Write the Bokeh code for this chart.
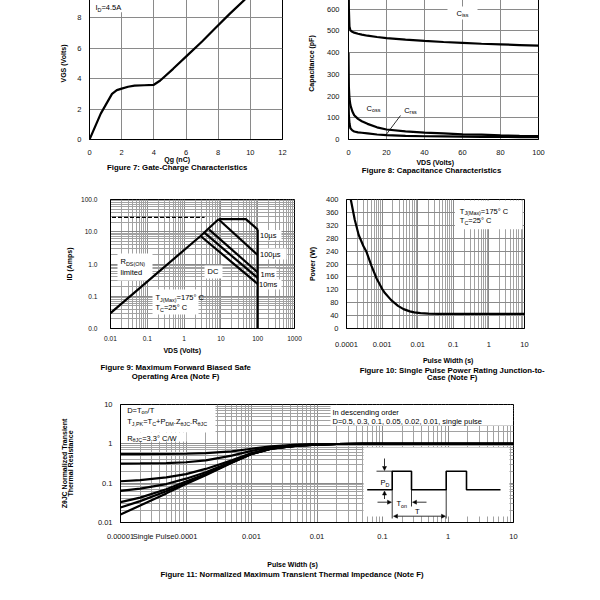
import math
from bokeh.plotting import figure
from bokeh.models import Label, FixedTicker, CustomJSTickFormatter, Arrow, NormalHead, Title
from bokeh.layouts import column, row
from bokeh.embed import file_html
from bokeh.resources import INLINE

FONT = "Liberation Sans"

# ---------------- data ----------------
# Figure 7: gate charge
gate_qg_nc = [0, 0.7, 1.4, 1.7, 2.0, 2.4, 2.8, 3.4, 4.0, 4.4, 5.2, 6.1, 7.0, 7.8, 8.7, 9.6, 10.4]
gate_vgs = [0, 1.7, 3.0, 3.25, 3.35, 3.47, 3.54, 3.57, 3.6, 3.88, 4.65, 5.55, 6.45, 7.3, 8.25, 9.15, 10.0]

# Figure 8: capacitance
cap_vds = [0, 0.2, 0.5, 1, 2, 3, 5, 7, 10, 15, 20, 30, 40, 50, 60, 70, 80, 90, 100]
cap_ciss = [800, 600, 520, 503, 496, 492, 487, 483, 478, 472, 467, 460, 454, 449, 445, 441, 438, 435, 432]
cap_coss = [400, 240, 190, 158, 130, 112, 95, 84, 72, 56, 46, 37, 32, 28, 24, 22, 19, 17, 16]
cap_crss = [180, 110, 75, 52, 42, 37, 33, 31, 28, 23, 20, 17, 15, 14, 13, 12, 12, 11, 11]

# Figure 9: safe operating area
soa_rds_v = [0.01, 2.8, 8.6]
soa_rds_i = [0.03, 7.4, 24.5]
soa_lim_v = [0.011, 3.6]
soa_lim_i = [28, 28]
soa_10us_v = [8.6, 47.7, 100]
soa_10us_i = [24.5, 24.5, 11.7]
soa_vmax_v = [100, 100]
soa_vmax_i = [11.7, 0.01]
soa_100us_v = [8.6, 100]
soa_100us_i = [24.5, 1.9]
soa_1ms_v = [4.8, 100]
soa_1ms_i = [11.6, 0.55]
soa_10ms_v = [3.6, 100]
soa_10ms_i = [9.2, 0.37]
soa_dc_v = [2.8, 100]
soa_dc_i = [7.4, 0.24]

# Figure 10: single pulse power
pulse_t = [1.32e-4, 1.7e-4, 2.2e-4, 3e-4, 3.6e-4, 5e-4, 7e-4, 1e-3, 1.2e-3, 1.8e-3, 2.8e-3,
           4e-3, 6e-3, 8e-3, 1.2e-2, 2e-2, 4e-2, 0.1, 1, 10]
pulse_p = [400, 338, 290, 255, 239, 195, 155, 123, 110, 88, 70,
           60, 53, 50, 47.5, 46.2, 45.6, 45.5, 45.5, 45.5]

# Figure 11: normalized transient thermal impedance
zth_t = [1e-5, 2e-5, 5e-5, 1e-4, 2e-4, 5e-4, 1e-3, 2e-3, 5e-3, 1e-2, 2e-2, 5e-2, 0.1, 1, 10]
zth_d050 = [0.55, 0.55, 0.552, 0.56, 0.58, 0.645, 0.75, 0.86, 0.95, 0.98, 0.99, 1.0, 1.0, 1.0, 1.0]
zth_d030 = [0.315, 0.317, 0.325, 0.34, 0.38, 0.5, 0.66, 0.82, 0.93, 0.97, 0.99, 1.0, 1.0, 1.0, 1.0]
zth_d010 = [0.112, 0.12, 0.14, 0.17, 0.23, 0.38, 0.58, 0.77, 0.91, 0.96, 0.99, 1.0, 1.0, 1.0, 1.0]
zth_d005 = [0.064, 0.073, 0.095, 0.13, 0.19, 0.35, 0.56, 0.76, 0.9, 0.96, 0.99, 1.0, 1.0, 1.0, 1.0]
zth_d002 = [0.033, 0.043, 0.07, 0.11, 0.17, 0.34, 0.55, 0.75, 0.9, 0.96, 0.99, 1.0, 1.0, 1.0, 1.0]
zth_d001 = [0.024, 0.035, 0.062, 0.1, 0.165, 0.335, 0.55, 0.75, 0.9, 0.96, 0.99, 1.0, 1.0, 1.0, 1.0]
zth_single = [0.016, 0.027, 0.055, 0.095, 0.16, 0.33, 0.55, 0.75, 0.9, 0.96, 0.99, 1.0, 1.0, 1.0, 1.0]

# tick values
g7_xticks = [0, 2, 4, 6, 8, 10, 12]
g7_yticks = [0, 2, 4, 6, 8, 10]
g8_xticks = [0, 20, 40, 60, 80, 100]
g8_yticks = [0, 100, 200, 300, 400, 500, 600, 700]
g9_xticks = [0.01, 0.1, 1, 10, 100, 1000]
g9_yticks = [0.01, 0.1, 1, 10, 100]
g10_xticks = [1e-4, 1e-3, 0.01, 0.1, 1, 10]
g10_yticks = [0, 40, 80, 120, 160, 200, 240, 280, 320, 360, 400]
g11_xticks = [1e-5, 1e-4, 1e-3, 0.01, 0.1, 1, 10]
g11_yticks = [0.01, 0.1, 1, 10]

# ---------------- text metrics (Arial-like) ----------------
REG = {ch: 556 for ch in "0123456789"}
REG.update({' ': 278, '(': 333, ')': 333, '.': 278, ',': 278, ':': 278, '-': 333, '=': 584, '+': 584,
            '/': 278, '°': 400, 'µ': 556, 'θ': 556,
            'A': 667, 'B': 667, 'C': 722, 'D': 722, 'E': 667, 'F': 611, 'G': 778, 'H': 722, 'I': 278,
            'J': 500, 'K': 667, 'L': 556, 'M': 833, 'N': 722, 'O': 778, 'P': 667, 'Q': 778, 'R': 722,
            'S': 667, 'T': 611, 'U': 722, 'V': 667, 'W': 944, 'X': 667, 'Y': 667, 'Z': 611,
            'a': 556, 'b': 556, 'c': 500, 'd': 556, 'e': 556, 'f': 278, 'g': 556, 'h': 556, 'i': 222,
            'j': 222, 'k': 500, 'l': 222, 'm': 833, 'n': 556, 'o': 556, 'p': 556, 'q': 556, 'r': 333,
            's': 500, 't': 278, 'u': 556, 'v': 500, 'w': 722, 'x': 500, 'y': 500, 'z': 500})
BOLD = dict(REG)
BOLD.update({':': 333, 'J': 556, 'b': 611, 'c': 556, 'd': 611, 'f': 333, 'g': 611, 'h': 611, 'i': 278,
             'j': 278, 'k': 556, 'l': 278, 'm': 889, 'n': 611, 'o': 611, 'p': 611, 'q': 611, 'r': 389,
             's': 556, 't': 333, 'u': 611, 'v': 556, 'w': 778, 'x': 556, 'y': 556})


def text_width(s, size, bold):
    tab = BOLD if bold else REG
    return sum(tab.get(ch, 556) for ch in s) * size / 1000.0


class Frame:
    def __init__(self, left, top, w, h, xr, yr, xlog=False, ylog=False):
        self.left, self.top, self.w, self.h = left, top, w, h
        self.xr, self.yr, self.xlog, self.ylog = xr, yr, xlog, ylog

    def fx(self, px):
        t = (px - self.left) / self.w
        a, b = self.xr
        if self.xlog:
            return 10 ** (math.log10(a) + t * (math.log10(b) - math.log10(a)))
        return a + t * (b - a)

    def fy(self, py):
        t = (self.top + self.h - py) / self.h
        a, b = self.yr
        if self.ylog:
            return 10 ** (math.log10(a) + t * (math.log10(b) - math.log10(a)))
        return a + t * (b - a)


def minors(e0, e1):
    return [k * 10.0 ** e for e in range(e0, e1) for k in range(2, 10)]


TITLE = 7.0
CAP = 7.8


def make_fig(fr, cl, ct, cw, ch, xt, yt, xminor=None, yminor=None, xfmt=None, yfmt=None,
             tsize="7.5px", xstand=9, ystand=8, ylabel="", ylabel_stand=7):
    bl = int(round(fr.left - cl))
    bt = int(round(fr.top - ct))
    p = figure(width=cw, height=ch, x_range=fr.xr, y_range=fr.yr,
               x_axis_type="log" if fr.xlog else "linear",
               y_axis_type="log" if fr.ylog else "linear",
               output_backend="svg", toolbar_location=None, title=None,
               min_border_left=bl, min_border_top=bt,
               min_border_right=int(cw - bl - fr.w), min_border_bottom=int(ch - bt - fr.h))
    p.background_fill_color = "white"
    p.border_fill_color = "white"
    p.outline_line_color = "black"
    p.outline_line_width = 1
    xtk = FixedTicker(ticks=xt, minor_ticks=xminor or [])
    ytk = FixedTicker(ticks=yt, minor_ticks=yminor or [])
    p.xaxis.ticker = xtk
    p.yaxis.ticker = ytk
    p.xgrid.ticker = xtk
    p.ygrid.ticker = ytk
    for g, mn in ((p.xgrid, xminor), (p.ygrid, yminor)):
        g.grid_line_color = "#8a8a8a"
        g.grid_line_width = 1
        g.minor_grid_line_color = "#a2a2a2" if mn else None
        g.minor_grid_line_width = 1
    for ax, st in ((p.xaxis, xstand), (p.yaxis, ystand)):
        ax.axis_line_color = "black"
        ax.major_tick_in = 0
        ax.major_tick_out = 0
        ax.minor_tick_in = 0
        ax.minor_tick_out = 0
        ax.major_label_text_font = FONT
        ax.major_label_text_font_size = tsize
        ax.major_label_text_color = "#111111"
        ax.major_label_standoff = st
    p.yaxis.axis_label = ylabel
    p.yaxis.axis_label_text_font = FONT
    p.yaxis.axis_label_text_font_size = "%.1fpx" % TITLE
    p.yaxis.axis_label_text_font_style = "bold"
    p.yaxis.axis_label_text_color = "black"
    p.yaxis.axis_label_standoff = ylabel_stand
    if xfmt:
        p.xaxis.formatter = CustomJSTickFormatter(code=xfmt)
    if yfmt:
        p.yaxis.formatter = CustomJSTickFormatter(code=yfmt)
    return p


def below_text(p, fr, text, center_px, size, standoff, bold=True, valign="bottom"):
    w = text_width(text, size, bold)
    p.add_layout(Title(text=text, align="left", offset=center_px - w / 2.0 - fr.left,
                       standoff=standoff, vertical_align=valign, text_font=FONT,
                       text_font_size="%.1fpx" % size,
                       text_font_style="bold" if bold else "normal", text_color="black"),
                 "below")


def rich(p, fr, px, py, pieces, size=7.5, bold=False, align="left", vertical=False, bg=None):
    sc = 0.72
    ws = [text_width(t, size * (sc if s else 1), bold) for t, s in pieces]
    total = sum(ws)
    pos = {"left": 0.0, "center": -total / 2.0, "right": -total}[align]
    for (t, s), w in zip(pieces, ws):
        fs = size * sc if s else size
        lead = len(t) - len(t.lstrip(" "))
        adv = text_width(" " * lead, fs, bold)
        tt = t.lstrip(" ")
        d = size * 0.32 if s else 0.0
        q = pos + adv
        if vertical:
            X, Y = px + d, py - q
        else:
            X, Y = px + q, py + d
        p.add_layout(Label(x=fr.fx(X), y=fr.fy(Y), text=tt, text_font=FONT,
                           text_font_size="%.2fpx" % fs,
                           text_font_style="bold" if bold else "normal",
                           text_align="left", text_baseline="middle",
                           angle=math.pi / 2 if vertical else 0.0, text_color="black",
                           background_fill_color=bg))
        pos += w


def wbox(p, fr, l, r, t, b):
    p.quad(left=[fr.fx(l)], right=[fr.fx(r)], top=[fr.fy(t)], bottom=[fr.fy(b)],
           fill_color="white", line_color=None)


def seg(p, fr, pts, width=0.8):
    p.line([fr.fx(a) for a, _ in pts], [fr.fy(b) for _, b in pts], line_color="black",
           line_width=width)


def arrow(p, fr, x0, y0, x1, y1, both=False, head=True):
    hd = lambda: NormalHead(size=4, line_color="black", fill_color="black", line_width=0.5)
    p.add_layout(Arrow(x_start=fr.fx(x0), y_start=fr.fy(y0), x_end=fr.fx(x1), y_end=fr.fy(y1),
                       end=hd() if head else None, start=hd() if both else None,
                       line_color="black", line_width=0.8))


LW = 2.2

# ---------------- Figure 7 ----------------
F7 = Frame(89, -14, 193, 153, (0, 12), (0, 10))
p7 = make_fig(F7, 8, -14, 292, 194, g7_xticks, g7_yticks, xstand=10, ystand=8,
              yfmt="return tick >= 10 ? '' : tick.toString();",
              ylabel="VGS (Volts)", ylabel_stand=7)
wbox(p7, F7, 89.5, 124, -14, 11)
p7.line(gate_qg_nc, gate_vgs, line_color="black", line_width=LW)
rich(p7, F7, 95, 6, [("I", 0), ("D", 1), ("=4.5A", 0)])
below_text(p7, F7, "Qg (nC)", 176.7, TITLE, -10)
below_text(p7, F7, "Figure 7: Gate-Charge Characteristics", 176.7, CAP, 7)

# ---------------- Figure 8 ----------------
F8 = Frame(348, -13, 190, 152, (0, 100), (0, 700))
p8 = make_fig(F8, 300, -14, 292, 194, g8_xticks, g8_yticks, xstand=10, ystand=9,
              yfmt="return tick >= 700 ? '' : tick.toString();",
              ylabel="Capacitance (pF)", ylabel_stand=9)
wbox(p8, F8, 447, 477, 6, 19)
wbox(p8, F8, 364, 383, 102, 114)
wbox(p8, F8, 401, 419, 104, 116)
p8.line(cap_vds, cap_ciss, line_color="black", line_width=LW)
p8.line(cap_vds, cap_coss, line_color="black", line_width=LW)
p8.line(cap_vds, cap_crss, line_color="black", line_width=LW)
rich(p8, F8, 462, 12.5, [("C", 0), ("iss", 1)], align="center")
rich(p8, F8, 373, 107.5, [("C", 0), ("oss", 1)], align="center")
rich(p8, F8, 410, 109.5, [("C", 0), ("rss", 1)], align="center")
arrow(p8, F8, 400, 115, 385, 135, head=False)
below_text(p8, F8, "VDS (Volts)", 435, TITLE, -2)
below_text(p8, F8, "Figure 8: Capacitance Characteristics", 431, CAP, -2)

# ---------------- Figure 9 ----------------
F9 = Frame(110, 199, 184, 129, (0.01, 1000), (0.01, 100), xlog=True, ylog=True)
p9 = make_fig(F9, 8, 180, 297, 210, g9_xticks, g9_yticks, minors(-2, 3), minors(-2, 2),
              xfmt="return tick.toString();", yfmt="return tick.toFixed(1);",
              tsize="6.6px", xstand=7, ystand=13, ylabel="ID (Amps)", ylabel_stand=5)
wbox(p9, F9, 117, 152, 253, 280)
wbox(p9, F9, 204, 222, 265, 278)
wbox(p9, F9, 257, 281, 229.5, 240)
wbox(p9, F9, 257, 286, 248, 259)
wbox(p9, F9, 257, 276, 268, 279)
wbox(p9, F9, 256, 281, 279, 289)
wbox(p9, F9, 152, 198, 289, 314)
p9.line(soa_lim_v, soa_lim_i, line_color="black", line_width=1.2, line_dash="4 2")
for vv, ii in ((soa_rds_v, soa_rds_i), (soa_10us_v, soa_10us_i), (soa_vmax_v, soa_vmax_i),
               (soa_100us_v, soa_100us_i), (soa_1ms_v, soa_1ms_i), (soa_10ms_v, soa_10ms_i),
               (soa_dc_v, soa_dc_i)):
    p9.line(vv, ii, line_color="black", line_width=LW)
rich(p9, F9, 120, 260.7, [("R", 0), ("DS(ON)", 1)])
rich(p9, F9, 120, 271.5, [("limited", 0)])
rich(p9, F9, 212.5, 271, [("DC", 0)], align="center")
rich(p9, F9, 259.5, 234.5, [("10µs", 0)])
rich(p9, F9, 259.5, 253.5, [("100µs", 0)])
rich(p9, F9, 260, 273.5, [("1ms", 0)])
rich(p9, F9, 258.5, 283.5, [("10ms", 0)])
rich(p9, F9, 155, 296.7, [("T", 0), ("J(Max)", 1), ("=175° C", 0)])
rich(p9, F9, 155, 306.7, [("T", 0), ("C", 1), ("=25° C", 0)])
below_text(p9, F9, "VDS (Volts)", 182, TITLE, 3)
below_text(p9, F9, "Figure 9: Maximum Forward Biased Safe", 175, CAP, 10)
below_text(p9, F9, "Operating Area (Note F)", 175, CAP, -10, valign="top")

# ---------------- Figure 10 ----------------
F10 = Frame(345, 198, 179, 134, (1e-4, 10), (0, 400), xlog=True)
p10 = make_fig(F10, 305, 180, 287, 210, g10_xticks, g10_yticks, minors(-4, 1), None,
               xfmt="return tick.toString();", xstand=13, ystand=8,
               ylabel="Power (W)", ylabel_stand=7)
wbox(p10, F10, 454, 522, 199, 229)
p10.line(pulse_t, pulse_p, line_color="black", line_width=LW)
rich(p10, F10, 459, 210, [("T", 0), ("J(Max)", 1), ("=175° C", 0)])
rich(p10, F10, 459, 219.5, [("T", 0), ("C", 1), ("=25° C", 0)])
below_text(p10, F10, "Pulse Width (s)", 446.7, TITLE, 10)
below_text(p10, F10, "Figure 10: Single Pulse Power Rating Junction-to-", 450.7, CAP, -12)
below_text(p10, F10, "Case (Note F)", 450.7, CAP, 5)

# ---------------- Figure 11 ----------------
F11 = Frame(120, 404, 393, 118, (1e-5, 10), (0.01, 10), xlog=True, ylog=True)
p11 = make_fig(F11, 8, 390, 584, 202, g11_xticks, g11_yticks, minors(-5, 1), minors(-2, 1),
               xfmt="if (tick > 2e-5 && tick < 6e-5) { return 'Single Pulse'; } return tick.toString();",
               yfmt="return tick.toString();", xstand=9, ystand=8,
               ylabel="Thermal Resistance", ylabel_stand=21)
p11.xaxis.ticker = FixedTicker(ticks=g11_xticks + [F11.fx(153)], minor_ticks=[])
p11.add_layout(Title(text="ZθJC Normalized Transient", align="center", standoff=-8,
                     text_font=FONT, text_font_size="%.1fpx" % TITLE, text_font_style="bold",
                     text_color="black"), "left")
wbox(p11, F11, 120.5, 215, 404.5, 432)
wbox(p11, F11, 120.5, 186, 432, 441)
wbox(p11, F11, 330, 512.5, 404.5, 425)
wbox(p11, F11, 363, 509, 447, 516)
for zz in (zth_d050, zth_d030, zth_d010, zth_d005, zth_d002, zth_d001, zth_single):
    p11.line(zth_t, zz, line_color="black", line_width=LW)
rich(p11, F11, 126.7, 409.5, [("D=T", 0), ("on", 1), ("/T", 0)])
rich(p11, F11, 126.7, 421, [("T", 0), ("J,PK", 1), ("=T", 0), ("C", 1), ("+P", 0), ("DM", 1),
                            (".Z", 0), ("θJC", 1), (".R", 0), ("θJC", 1)])
rich(p11, F11, 126.7, 437.5, [("R", 0), ("θJC", 1), ("=3.3° C/W", 0)])
rich(p11, F11, 332, 411.7, [("In descending order", 0)])
rich(p11, F11, 332, 420.7, [("D=0.5, 0.3, 0.1, 0.05, 0.02, 0.01, single pulse", 0)])
# pulse inset
seg(p11, F11, [(366.7, 489.3), (391.7, 489.3), (391.7, 470.7), (411, 470.7), (411, 489.3),
               (445.7, 489.3), (445.7, 470.7), (466, 470.7), (466, 489.3), (500, 489.3)], width=1.6)
seg(p11, F11, [(376, 470.7), (391.7, 470.7)])
seg(p11, F11, [(391.7, 489.3), (391.7, 518)])
seg(p11, F11, [(445.7, 489.3), (445.7, 518)])
seg(p11, F11, [(411, 489.3), (411, 506)])
arrow(p11, F11, 384, 458, 384, 470)
arrow(p11, F11, 384, 498.5, 384, 490.5)
arrow(p11, F11, 377, 501.7, 391, 501.7)
arrow(p11, F11, 426, 501.7, 412, 501.7)
arrow(p11, F11, 393, 515.7, 445, 515.7, both=True)
rich(p11, F11, 380, 481.7, [("P", 0), ("D", 1)])
rich(p11, F11, 396, 503.3, [("T", 0), ("on", 1)])
rich(p11, F11, 416.7, 511, [("T", 0)], align="center")
below_text(p11, F11, "Pulse Width (s)", 292, TITLE, 30)
below_text(p11, F11, "Figure 11: Normalized Maximum Transient Thermal Impedance (Note F)", 292, CAP,
           -25, valign="top")

layout = column(row(p7, p8), row(p9, p10), p11, margin=(-14, 0, 0, 8))

open("out.html", "w").write(file_html(layout, INLINE))
